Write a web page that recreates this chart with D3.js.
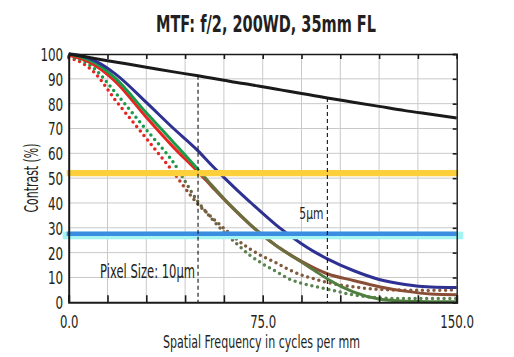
<!DOCTYPE html>
<html><head><meta charset="utf-8">
<script src="https://cdn.jsdelivr.net/npm/d3@7/dist/d3.min.js"></script>
<style>
html,body{margin:0;padding:0;background:#fff;}
svg{display:block;}
text{font-family:"Liberation Sans Narrow","Arial Narrow","DejaVu Sans Condensed",sans-serif;fill:#231f20;}
</style></head>
<body>
<svg id="chart" width="514" height="357"></svg>
<script>
// ---------- data ----------
const freq          = [0, 5, 10, 18, 30, 40, 50, 55, 60, 65, 70, 75, 80, 85, 90, 95, 100, 110, 120, 130, 140, 150];
const diffraction   = [100, 99.1, 98.2, 96.8, 94.7, 92.9, 91.2, 90.3, 89.4, 88.5, 87.7, 86.8, 85.9, 85.0, 84.1, 83.2, 82.3, 80.6, 78.9, 77.2, 75.7, 74.2];
const blueSolid     = [100, 99.3, 97.3, 92, 80.5, 70.5, 61, 55.5, 50.3, 45.3, 40.5, 35.8, 31.3, 27.3, 23.6, 20.3, 17.5, 12.8, 9.2, 7.2, 6.2, 6.0];
const greenSolid    = [100, 98.8, 96.5, 90.3, 76.3, 65, 53.5, 47.5, 41.8, 36.5, 31.5, 27, 23, 19.5, 16.2, 12.8, 9.4, 4.2, 1.3, 0.4, 0.2, 0.2];
const redSolid      = [99.5, 98, 95.5, 89, 74.5, 63, 52.5, 47, 41.5, 36.3, 31.4, 27, 23, 19.6, 16.5, 13.8, 11.5, 8.8, 6.3, 4.5, 3.3, 3.0];
const redDotted     = [98.5, 96.5, 92.5, 81.5, 66, 53, 39.5, 34.5, 29.8, 25.3, 21.5, 18.5, 16, 13.2, 11, 9.4, 8, 6.2, 5.2, 4.9, 4.8, 5.0];
const greenDotted   = [99, 97.5, 94, 84.5, 69.5, 57, 40.5, 34, 28.3, 23.5, 19, 15.5, 12.5, 9.5, 7.7, 6.4, 5.3, 3.0, 1.8, 1.5, 1.5, 1.5];
const nyquist       = [50, 100];          // dashed markers (cycles/mm)
const nyquistLabels = ["Pixel Size: 10µm", "5µm"];
const thresholds    = [52, 27];           // horizontal bands (% contrast)
const xTicks        = [0, 15, 30, 45, 60, 75, 90, 105, 120, 135, 150];
const xLabelTicks   = [0, 75, 150];
const xTickLabels   = ["0.0", "75.0", "150.0"];
const yTicks        = [0, 10, 20, 30, 40, 50, 60, 70, 80, 90, 100];
const chartTitle    = "MTF: f/2, 200WD, 35mm FL";
const xTitle        = "Spatial Frequency in cycles per mm";
const yTitle        = "Contrast (%)";

// ---------- layout ----------
const svg = d3.select("#chart");
const L = 68.7, R = 456.7, T = 54, B = 302.3;
const x = d3.scaleLinear().domain([0, 150]).range([L, R]);
const y = d3.scaleLinear().domain([0, 100]).range([B, T]);
const labelWidth = s => [...s].reduce((w, c) => w + (c === "." ? 3.3 : 7.6), 0);
const FONT = '"Liberation Sans Narrow","Arial Narrow","DejaVu Sans Condensed",sans-serif';

// gradients (colour shift where curves overlap)
const defs = svg.append("defs");
const grads = [
  {id: "gRed",   stops: [[0, "#e52521"], [0.33, "#e52521"], [0.37, "#8a4e36"], [1, "#8a4e36"]]},
  {id: "gGreen", stops: [[0, "#1b9a4a"], [0.33, "#1b9a4a"], [0.36, "#6c6e3e"], [0.6, "#6c6e3e"], [0.66, "#4f7e3f"], [1, "#4f7e3f"]]},
  {id: "gRedDot", stops: [[0, "#e52521"], [0.27, "#e52521"], [0.31, "#7a5a3c"], [1, "#8a5a3e"]]},
  {id: "gGreenDot", stops: [[0, "#1b9a4a"], [0.27, "#1b9a4a"], [0.31, "#6a6445"], [0.42, "#6a6445"], [0.47, "#5b8550"], [1, "#5b8550"]]}
];
grads.forEach(g => {
  const lg = defs.append("linearGradient").attr("id", g.id)
    .attr("gradientUnits", "userSpaceOnUse")
    .attr("x1", x(0)).attr("x2", x(150)).attr("y1", 0).attr("y2", 0);
  g.stops.forEach(s => lg.append("stop").attr("offset", s[0]).attr("stop-color", s[1]));
});

// grid
const grid = svg.append("g").attr("stroke", "#c9c9c9").attr("stroke-width", 1);
grid.selectAll("line.v").data(xTicks.slice(1, -1)).join("line").attr("class", "v")
  .attr("x1", d => x(d)).attr("x2", d => x(d)).attr("y1", y(0)).attr("y2", y(100));
grid.selectAll("line.h").data(yTicks.slice(1, -1)).join("line").attr("class", "h")
  .attr("x1", x(0)).attr("x2", x(150)).attr("y1", d => y(d)).attr("y2", d => y(d));

// curves
const line = d3.line().x((d, i) => x(freq[i])).y(d => y(d)).curve(d3.curveMonotoneX);
const series = [
  {vals: redDotted,   stroke: "url(#gRedDot)",   dotted: true},
  {vals: greenDotted, stroke: "url(#gGreenDot)", dotted: true},
  {vals: redSolid,    stroke: "url(#gRed)"},
  {vals: greenSolid,  stroke: "url(#gGreen)"},
  {vals: blueSolid,   stroke: "#2e3192"},
  {vals: diffraction, stroke: "#1a1a1a"}
];
svg.append("g").selectAll("path").data(series).join("path")
  .attr("d", d => line(d.vals))
  .attr("fill", "none")
  .attr("stroke", d => d.stroke)
  .attr("stroke-width", d => d.dotted ? 3.5 : 3)
  .attr("stroke-linecap", d => d.dotted ? "round" : "butt")
  .attr("stroke-linejoin", "round")
  .attr("stroke-dasharray", d => d.dotted ? "0 5.8" : null);

// horizontal bands
const bands = svg.append("g");
bands.append("line")
  .attr("x1", x(0) - 2).attr("x2", x(150) + 1.5)
  .attr("y1", y(thresholds[0])).attr("y2", y(thresholds[0]))
  .attr("stroke", "#fdd03b").attr("stroke-width", 6.2);
bands.append("line")
  .attr("x1", x(0) - 6).attr("x2", x(150) + 6.5)
  .attr("y1", y(thresholds[1]) + 0.3).attr("y2", y(thresholds[1]) + 0.3)
  .attr("stroke", "#a4f4f4").attr("stroke-width", 7.6);
bands.append("line")
  .attr("x1", x(0) - 2).attr("x2", x(150))
  .attr("y1", y(thresholds[1]) - 1.5).attr("y2", y(thresholds[1]) - 1.5)
  .attr("stroke", "#3a8de0").attr("stroke-width", 4.4);

// dashed nyquist markers (from diffraction curve down to 0)
const diffAt = d3.scaleLinear().domain(freq).range(diffraction);
svg.append("g").selectAll("line").data(nyquist).join("line")
  .attr("x1", d => x(d)).attr("x2", d => x(d))
  .attr("y1", d => y(diffAt(d))).attr("y2", y(0))
  .attr("stroke", "#111").attr("stroke-width", 1.1).attr("stroke-dasharray", "4 3");

// axes
const axG = svg.append("g");
const axBottom = axG.append("g").attr("transform", `translate(0,${y(0)})`)
  .call(d3.axisBottom(x).tickValues(xTicks).tickSize(-7).tickFormat(""));
const axBottomLbl = axG.append("g").attr("transform", `translate(0,${y(0)})`)
  .call(d3.axisBottom(x).tickValues(xLabelTicks).tickSize(0).tickPadding(12)
        .tickFormat((d, i) => xTickLabels[i]));
axBottomLbl.select(".domain").remove();
const axTop = axG.append("g").attr("transform", `translate(0,${y(100)})`)
  .call(d3.axisTop(x).tickValues(xTicks).tickSize(-5).tickFormat(""));
const axRight = axG.append("g").attr("transform", `translate(${x(150)},0)`)
  .call(d3.axisRight(y).tickValues(yTicks).tickSize(-4).tickFormat(""));
const axLeft = axG.append("g").attr("transform", `translate(${x(0)},0)`)
  .call(d3.axisLeft(y).tickValues(yTicks).tickSize(0).tickPadding(6).tickFormat(d3.format("d")));
axG.selectAll("text").filter(function() { return !this.textContent; }).remove();
[axBottom, axBottomLbl, axTop, axRight, axLeft].forEach(g => {
  g.select(".domain").attr("stroke", "#1a1a1a");
  g.selectAll(".tick line").attr("stroke", "#1a1a1a").attr("stroke-width", 1.6);
  g.selectAll("text").attr("font-size", 18).attr("fill", "#231f20").attr("font-family", FONT)
    .each(function() {
      d3.select(this).attr("textLength", labelWidth(this.textContent)).attr("lengthAdjust", "spacingAndGlyphs");
    });
});
axBottom.select(".domain").attr("stroke-width", 2);
axLeft.select(".domain").attr("stroke-width", 2);
axTop.select(".domain").attr("stroke-width", 1.4);
axRight.select(".domain").attr("stroke-width", 1.4);
axLeft.selectAll("text").attr("dy", "0.36em").attr("x", -5.5);
axBottomLbl.selectAll("text").attr("dy", "0.72em").attr("y", 12.5);

// titles
svg.append("text").attr("x", 266).attr("y", 32).attr("text-anchor", "middle")
  .attr("font-size", 23.5).attr("font-weight", "bold")
  .attr("textLength", 220).attr("lengthAdjust", "spacingAndGlyphs").text(chartTitle);
svg.append("text").attr("x", 261.5).attr("y", 347.5).attr("text-anchor", "middle")
  .attr("font-size", 18.5).attr("textLength", 197).attr("lengthAdjust", "spacingAndGlyphs").text(xTitle);
svg.append("text").attr("transform", "translate(37.5,178) rotate(-90)").attr("text-anchor", "middle")
  .attr("font-size", 19).attr("textLength", 69).attr("lengthAdjust", "spacingAndGlyphs").text(yTitle);

// nyquist labels
svg.append("text").attr("x", x(nyquist[0]) - 3).attr("y", 277.7).attr("text-anchor", "end")
  .attr("font-size", 19).attr("textLength", 95).attr("lengthAdjust", "spacingAndGlyphs").text(nyquistLabels[0]);
svg.append("text").attr("x", x(nyquist[1]) - 4).attr("y", 219.3).attr("text-anchor", "end")
  .attr("font-size", 16.5).attr("textLength", 24).attr("lengthAdjust", "spacingAndGlyphs").text(nyquistLabels[1]);
</script>
</body></html>
